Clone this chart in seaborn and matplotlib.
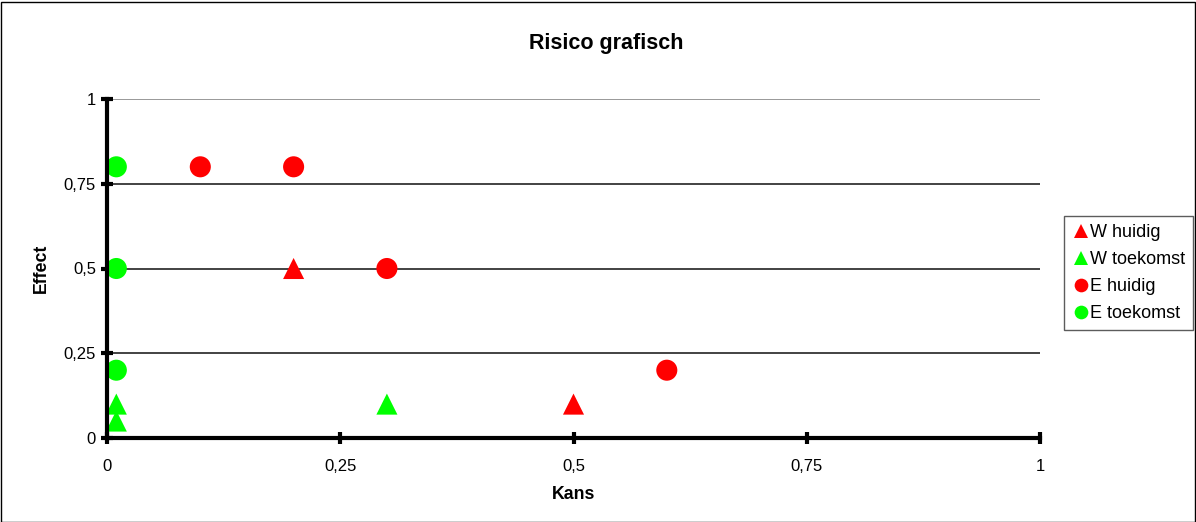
import matplotlib
matplotlib.use("Agg")
import matplotlib.pyplot as plt
import seaborn as sns
import pandas as pd
from matplotlib.patches import Rectangle

series_names = ["W huidig", "W toekomst", "E huidig", "E toekomst"]
w_huidig_x = [0.2, 0.5]
w_huidig_y = [0.5, 0.1]
w_toekomst_x = [0.01, 0.01, 0.3]
w_toekomst_y = [0.1, 0.05, 0.1]
e_huidig_x = [0.1, 0.2, 0.3, 0.6]
e_huidig_y = [0.8, 0.8, 0.5, 0.2]
e_toekomst_x = [0.01, 0.01, 0.01]
e_toekomst_y = [0.8, 0.5, 0.2]
tick_values = [0, 0.25, 0.5, 0.75, 1]
tick_labels = ["0", "0,25", "0,5", "0,75", "1"]

rows = []
for name, xs, ys in [("W huidig", w_huidig_x, w_huidig_y),
                     ("W toekomst", w_toekomst_x, w_toekomst_y),
                     ("E huidig", e_huidig_x, e_huidig_y),
                     ("E toekomst", e_toekomst_x, e_toekomst_y)]:
    for x, y in zip(xs, ys):
        rows.append({"Kans": x, "Effect": y, "Serie": name})
df = pd.DataFrame(rows)

sns.set_theme(style="white")
plt.rcParams['font.family'] = ['Liberation Sans', 'DejaVu Sans']
plt.rcParams['text.color'] = 'black'
plt.rcParams['axes.labelcolor'] = 'black'
plt.rcParams['xtick.color'] = 'black'
plt.rcParams['ytick.color'] = 'black'

fig = plt.figure(figsize=(11.96, 5.22), dpi=100)
ax = fig.add_axes([107/1196, 1 - 438/522, (1040-107)/1196, (438-99)/522])

palette = {"W huidig": "#FF0000", "W toekomst": "#00FF00",
           "E huidig": "#FF0000", "E toekomst": "#00FF00"}
markers = {"W huidig": "^", "W toekomst": "^", "E huidig": "o", "E toekomst": "o"}

for yv, c in zip([0.25, 0.5, 0.75, 1.0], ["#222222", "#222222", "#222222", "#888888"]):
    ax.axhline(yv, color=c, lw=1.2, zorder=0)

sns.scatterplot(data=df, x="Kans", y="Effect", hue="Serie", style="Serie",
                hue_order=series_names, style_order=series_names,
                palette=palette, markers=markers, s=230, linewidth=0,
                ax=ax, zorder=3, clip_on=False)

ax.set_xlim(0, 1)
ax.set_ylim(0, 1)
ax.set_xticks(tick_values)
ax.set_xticklabels(tick_labels)
ax.set_yticks(tick_values)
ax.set_yticklabels(tick_labels)
ax.tick_params(direction="inout", length=8, width=3, color="black",
               labelsize=12, labelcolor="black", bottom=True, left=True)
ax.tick_params(axis="x", pad=11)
ax.tick_params(axis="y", pad=4)
for s in ["top", "right"]:
    ax.spines[s].set_visible(False)
for s in ["left", "bottom"]:
    ax.spines[s].set_color("black")
    ax.spines[s].set_linewidth(3)
    ax.spines[s].set_zorder(4)

ax.set_xlabel("Kans", fontsize=12.8, fontweight="bold", labelpad=9)
ax.set_ylabel("Effect", fontsize=12.8, fontweight="bold", labelpad=10)
fig.text(606/1196, 1 - 43/522, "Risico grafisch", ha="center", va="center",
         fontsize=15.5, fontweight="bold")

handles, labels = ax.get_legend_handles_labels()
leg = ax.legend(handles, labels, loc="center left",
                bbox_to_anchor=(1064/1196, 1 - 273/522), bbox_transform=fig.transFigure,
                frameon=True, fancybox=False, edgecolor="#333333", fontsize=13,
                markerscale=0.65, handletextpad=0.0, handlelength=1.0,
                labelspacing=0.55, borderpad=0.45, borderaxespad=0)
leg.get_frame().set_linewidth(1)

fig.patches.append(Rectangle((0.5/1196, 0.5/522), 1 - 2/1196, 1 - 2/522,
                             transform=fig.transFigure, fill=False,
                             edgecolor="black", lw=1))

fig.savefig("out.png", dpi=100)
